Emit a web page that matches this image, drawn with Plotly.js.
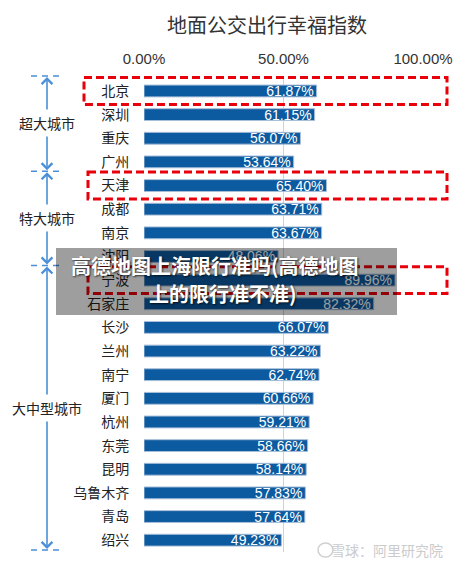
<!DOCTYPE html>
<html>
<head>
<meta charset="utf-8">
<script src="https://cdn.plot.ly/plotly-3.0.1.min.js"></script>
<style>html,body{margin:0;padding:0;background:#fff;}#chart{width:454px;height:564px;}</style>
</head>
<body>
<div id="chart"></div>
<script>
// ---- data ----
const chartTitle = "地面公交出行幸福指数";
const cities = ["北京","深圳","重庆","广州","天津","成都","南京","沈阳","宁波","石家庄","长沙","兰州","南宁","厦门","杭州","东莞","昆明","乌鲁木齐","青岛","绍兴"];
const happiness = [61.87,61.15,56.07,53.64,65.40,63.71,63.67,48.06,89.96,82.32,66.07,63.22,62.74,60.66,59.21,58.66,58.14,57.83,57.64,49.23];
const xTickVals = [0,50,100];
const xTickText = ["0.00%","50.00%","100.00%"];
const groupNames = ["超大城市","特大城市","大中型城市"];
const groupStart = [0,4,7];   // first row index of each group
const groupEnd = [3,7,19];    // last row index of each group
const highlighted = ["北京","天津","宁波"];
const overlayLines = ["高德地图上海限行准吗(高德地图","上的限行准不准)"];
const watermark = "雪球：阿里研究院";

// ---- layout helpers (pixel -> paper) ----
const L = 144, R = 423, T = 76, B = 552;
const W = 454, H = 564;
const PX = x => (x - L) / (R - L);
const PY = y => (B - y) / (B - T);
const rowH = (B - T) / cities.length;
const rowPix = i => T + (i + 0.5) * rowH;

const CJK = '"Noto Sans CJK SC", "Noto Sans", sans-serif';
const LAT = '"Liberation Sans", Arial, sans-serif';
const blue = '#4a8fd8';

const trace = {
  type: 'bar',
  orientation: 'h',
  y: cities,
  x: happiness,
  width: 0.5,
  marker: {color: '#0c5a9f', line: {color: '#a8bfd9', width: 1}},
  text: happiness.map(v => v.toFixed(2) + '%'),
  textposition: 'inside',
  insidetextanchor: 'end',
  constraintext: 'none',
  textfont: {family: LAT, size: 14, color: '#ffffff'},
  hoverinfo: 'none',
  cliponaxis: false
};

const shapes = [];
const annotations = [];

// red dashed highlight boxes
highlighted.forEach(name => {
  const i = cities.indexOf(name);
  const left = i === 0 ? 84 : 88;
  shapes.push({type: 'rect', xref: 'paper', yref: 'y', layer: 'above',
    x0: PX(left), x1: PX(447), y0: i - 0.57, y1: i + 0.57,
    line: {color: '#e8000b', width: 3, dash: '8px,4px'}, fillcolor: 'rgba(0,0,0,0)'});
});

// group brackets
const bounds = [T, rowPix(groupEnd[0]) + rowH / 2, rowPix(groupEnd[1]) + rowH / 2 - 1, B - 2];
bounds.forEach(by => {
  shapes.push({type: 'line', xref: 'paper', yref: 'paper', layer: 'above',
    x0: PX(31), x1: PX(63), y0: PY(by), y1: PY(by),
    line: {color: blue, width: 1.5, dash: '6px,5px'}});
});
groupNames.forEach((g, k) => {
  const top = bounds[k] + 1, bot = bounds[k + 1] - 1;
  const cy = k === 0 ? 123 : (k === 1 ? 218 : 408);
  annotations.push({xref: 'paper', yref: 'paper', x: PX(47), y: PY(cy), text: g,
    showarrow: false, xanchor: 'center', yanchor: 'middle',
    font: {family: CJK, size: 14, color: '#222'}});
  // up arrow
  annotations.push({xref: 'paper', yref: 'paper', x: PX(47), y: PY(top), text: '',
    showarrow: true, ax: 0, ay: (cy - 12) - top, axref: 'pixel', ayref: 'pixel',
    arrowhead: 4, arrowsize: 1.3, arrowwidth: 1.6, arrowcolor: blue, standoff: 0});
  // down arrow
  annotations.push({xref: 'paper', yref: 'paper', x: PX(47), y: PY(bot), text: '',
    showarrow: true, ax: 0, ay: (cy + 12) - bot, axref: 'pixel', ayref: 'pixel',
    arrowhead: 4, arrowsize: 1.3, arrowwidth: 1.6, arrowcolor: blue, standoff: 0});
});

// grey overlay caption
shapes.push({type: 'rect', xref: 'paper', yref: 'paper', layer: 'above',
  x0: PX(56), x1: PX(397), y0: PY(315), y1: PY(248),
  fillcolor: 'rgba(0,0,0,0.38)', line: {width: 0}});
annotations.push({xref: 'paper', yref: 'paper', x: PX(215), y: PY(265), text: overlayLines[0],
  showarrow: false, xanchor: 'center', yanchor: 'middle',
  font: {family: CJK, size: 20, color: '#ffffff', weight: 'bold', shadow: '1px 1px 2px rgba(0,0,0,0.7)'}});
annotations.push({xref: 'paper', yref: 'paper', x: PX(223), y: PY(293), text: overlayLines[1],
  showarrow: false, xanchor: 'center', yanchor: 'middle',
  font: {family: CJK, size: 20, color: '#ffffff', weight: 'bold', shadow: '1px 1px 2px rgba(0,0,0,0.7)'}});

// watermark
shapes.push({type: 'circle', xref: 'paper', yref: 'paper', layer: 'above',
  x0: PX(318), x1: PX(333), y0: PY(557), y1: PY(543),
  line: {color: '#cfcfcf', width: 1.5}, fillcolor: 'rgba(0,0,0,0)'});
annotations.push({xref: 'paper', yref: 'paper', x: PX(387), y: PY(550), text: watermark,
  showarrow: false, xanchor: 'center', yanchor: 'middle',
  font: {family: CJK, size: 14, color: '#cccccc'}});

const layout = {
  width: W, height: H,
  margin: {l: L, r: W - R, t: T, b: H - B, pad: 0},
  paper_bgcolor: '#ffffff', plot_bgcolor: '#ffffff',
  showlegend: false,
  title: {text: chartTitle, x: 267 / W, xref: 'container', xanchor: 'center', y: 1 - 26 / H, yref: 'container', yanchor: 'middle',
    font: {family: CJK, size: 20, color: '#333'}},
  xaxis: {side: 'top', range: [0, 100], tickvals: xTickVals, ticktext: xTickText,
    showgrid: true, gridcolor: '#cad3df', gridwidth: 1, zeroline: false, showline: false,
    ticks: 'outside', ticklen: 5, tickcolor: 'rgba(0,0,0,0)',
    tickfont: {family: LAT, size: 15, color: '#333'}, fixedrange: true},
  yaxis: {type: 'category', autorange: 'reversed', showgrid: false, zeroline: false, showline: false,
    ticks: 'outside', ticklen: 11, tickcolor: 'rgba(0,0,0,0)',
    tickfont: {family: CJK, size: 14, color: '#222'}, fixedrange: true},
  shapes: shapes,
  annotations: annotations,
  bargap: 0.5
};

Plotly.newPlot('chart', [trace], layout, {staticPlot: true, displayModeBar: false});
</script>
</body>
</html>
